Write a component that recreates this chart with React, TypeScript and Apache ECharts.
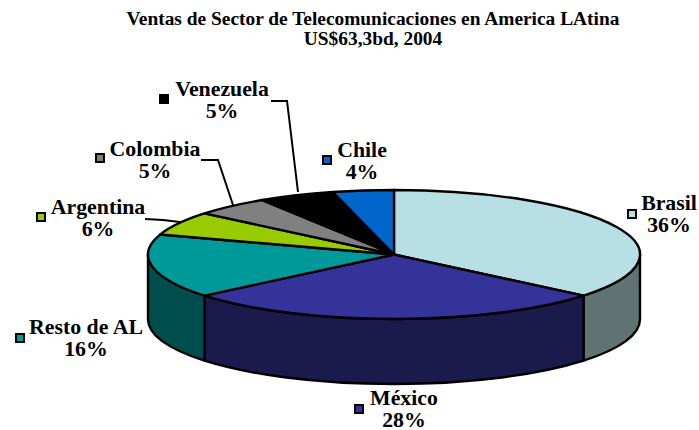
import React, { useEffect, useRef } from "react";
import * as echarts from "echarts";

const titleLines = ["Ventas de Sector de Telecomunicaciones en America LAtina", "US$63,3bd, 2004"];
const countries = ["Brasil", "México", "Resto de AL", "Argentina", "Colombia", "Venezuela", "Chile"];
const shares = [36, 28, 16, 6, 5, 5, 4];
const topColors = ["#B8E0E4", "#333399", "#009999", "#99CC00", "#808080", "#000000", "#0066CC"];
const wallColors = ["#5F7373", "#1A1A4D", "#004D4D", "#4D6600", "#404040", "#000000", "#003366"];

const labelCentres = [[669, 214], [404, 408.5], [86, 338], [98, 218], [155, 160], [222, 100], [362, 161]];
const keySpots = [[632, 214], [359, 409], [20, 338], [41, 217], [100, 158], [164, 99], [327, 160]];
const leaderLines = [
  [[145, 219], [163, 220], [180, 222]],
  [[201, 160], [218, 160], [233, 205]],
  [[271, 101], [287, 101], [298, 192]],
];

const CX = 394, CY = 254.5, RX = 246, RY = 64.5, DEPTH = 65;
const FONT = "'Liberation Serif', 'Times New Roman', serif";

const rad = (deg: number) => (deg * Math.PI) / 180;
const pt = (deg: number, dy = 0) => [CX + RX * Math.sin(rad(deg)), CY - RY * Math.cos(rad(deg)) + dy];

function topPath(a: number, b: number) {
  const [x0, y0] = pt(a);
  const [x1, y1] = pt(b);
  return `M${CX} ${CY}L${x0} ${y0}A${RX} ${RY} 0 ${b - a > 180 ? 1 : 0} 1 ${x1} ${y1}Z`;
}

function wallPath(a: number, b: number) {
  const s = Math.max(a, 90), e = Math.min(b, 270);
  if (e <= s) return null;
  const [x0, y0] = pt(s);
  const [x1, y1] = pt(e);
  const [x2, y2] = pt(e, DEPTH);
  const [x3, y3] = pt(s, DEPTH);
  return `M${x0} ${y0}A${RX} ${RY} 0 0 1 ${x1} ${y1}L${x2} ${y2}A${RX} ${RY} 0 0 0 ${x3} ${y3}Z`;
}

export default function App() {
  const ref = useRef<HTMLDivElement>(null);
  useEffect(() => {
    document.body.style.margin = "0";
    const chart = echarts.init(ref.current!, null, { renderer: "svg" });
    const total = shares.reduce((s, v) => s + v, 0);
    const line = { stroke: "#000", lineWidth: 2.4, lineJoin: "round" as const };

    chart.setOption({
      animation: false,
      backgroundColor: "#fff",
      title: {
        text: titleLines.join("\n"),
        left: 368,
        top: 3,
        textAlign: "center",
        textStyle: { fontFamily: FONT, fontSize: 19.4, fontWeight: "bold", color: "#000", lineHeight: 20 },
      },
      series: [
        {
          type: "custom",
          coordinateSystem: "none",
          silent: true,
          data: shares.map((v) => [v]),
          renderItem: (params: any, api: any) => {
            const i = params.dataIndex;
            const before = shares.slice(0, i).reduce((s, v) => s + v, 0);
            const a = (before / total) * 360;
            const b = ((before + api.value(0)) / total) * 360;
            const children: any[] = [];
            const wall = wallPath(a, b);
            if (wall) {
              children.push({ type: "path", shape: { pathData: wall }, style: { fill: wallColors[i], ...line } });
            }
            children.push({ type: "path", shape: { pathData: topPath(a, b) }, style: { fill: topColors[i], ...line } });
            return { type: "group", children };
          },
        },
      ],
      graphic: [
        ...leaderLines.map((points) => ({
          type: "polyline",
          z: 10,
          shape: { points },
          style: { fill: "none", stroke: "#000", lineWidth: 2 },
        })),
        ...countries.map((name, i) => ({
          type: "text",
          z: 10,
          x: labelCentres[i][0],
          y: labelCentres[i][1],
          style: {
            text: `${name}\n${shares[i]}%`,
            fontFamily: FONT,
            fontSize: 21.8,
            fontWeight: "bold",
            lineHeight: 22,
            fill: "#000",
            textAlign: "center",
            textVerticalAlign: "middle",
          },
        })),
        ...countries.map((_, i) => ({
          type: "rect",
          z: 10,
          shape: { x: keySpots[i][0] - 4, y: keySpots[i][1] - 4, width: 8, height: 8 },
          style: { fill: topColors[i], stroke: "#000", lineWidth: 2 },
        })),
      ],
    });
    return () => chart.dispose();
  }, []);
  return <div ref={ref} style={{ width: 699, height: 430 }} />;
}
